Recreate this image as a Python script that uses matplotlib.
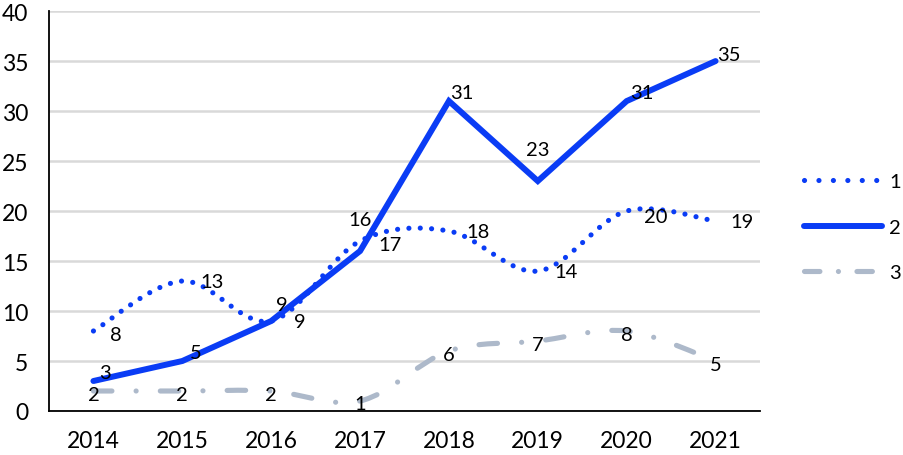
import matplotlib.pyplot as plt
from matplotlib.path import Path
from matplotlib.patches import PathPatch
from matplotlib.lines import Line2D

years = ['2014', '2015', '2016', '2017', '2018', '2019', '2020', '2021']
s1 = [8, 13, 9, 17, 18, 14, 20, 19]
s2 = [3, 5, 9, 16, 31, 23, 31, 35]
s3 = [2, 2, 2, 1, 6, 7, 8, 5]
names = ['1', '2', '3']

blue = '#0A3CF5'
gray = '#ADB9CA'

plt.rcParams['font.family'] = ['Lato', 'DejaVu Sans']


def smooth_path(xs, ys):
    # кривые Безье как у сглаженной линии Excel
    verts = [(xs[0], ys[0])]
    codes = [Path.MOVETO]
    n = len(xs)
    for i in range(n - 1):
        x0, y0 = (xs[i - 1], ys[i - 1]) if i > 0 else (xs[i], ys[i])
        x1, y1 = xs[i], ys[i]
        x2, y2 = xs[i + 1], ys[i + 1]
        x3, y3 = (xs[i + 2], ys[i + 2]) if i + 2 < n else (x2, y2)
        verts += [(x1 + (x2 - x0) / 6, y1 + (y2 - y0) / 6),
                  (x2 - (x3 - x1) / 6, y2 - (y3 - y1) / 6),
                  (x2, y2)]
        codes += [Path.CURVE4] * 3
    return Path(verts, codes)


fig = plt.figure(figsize=(9.04, 4.56), dpi=100)
ax = fig.add_axes([0.0542, 0.0965, 0.7865, 0.877])

x = list(range(len(years)))

lw_thin = 3.7
dot_style = (0, (0.01, 2.2))
dashdot_style = (0, (3.6, 4.7, 0.01, 4.7))

# 1 - точки
p1 = PathPatch(smooth_path(x, s1), fill=False, edgecolor=blue, lw=lw_thin,
               linestyle=dot_style, capstyle='round', zorder=3)
ax.add_patch(p1)
# 2 - сплошная
ax.plot(x, s2, color=blue, lw=4.3, solid_capstyle='round',
        solid_joinstyle='miter', zorder=4)
# 3 - штрихпунктир
p3 = PathPatch(smooth_path(x, s3), fill=False, edgecolor=gray, lw=lw_thin,
               linestyle=dashdot_style, capstyle='round', zorder=2)
ax.add_patch(p3)

fs = 14.5
off1 = [(22, -3), (30, 0), (29, 0), (30, -3), (29, 0), (28, 0), (29, -5), (26, 0)]
off2 = [(12, 9), (13, 9), (11, 17), (0, 32), (13, 9), (0, 32), (15, 9), (13, 7)]
for i in x:
    ax.annotate(str(s1[i]), (i, s1[i]), xytext=off1[i], textcoords='offset pixels',
                ha='center', va='center', fontsize=fs, zorder=5)
    ax.annotate(str(s2[i]), (i, s2[i]), xytext=off2[i], textcoords='offset pixels',
                ha='center', va='center', fontsize=fs, zorder=5)
    ax.annotate(str(s3[i]), (i, s3[i]), xytext=(0, -3), textcoords='offset pixels',
                ha='center', va='center', fontsize=fs, zorder=5)

ax.set_xlim(-0.5, 7.5)
ax.set_ylim(0, 40)
ax.set_yticks(range(0, 41, 5))
ax.set_xticks(x)
ax.set_xticklabels(years)
ax.tick_params(axis='both', length=0, labelsize=16.5)
ax.tick_params(axis='x', pad=14)
ax.tick_params(axis='y', pad=15)
ax.grid(axis='y', color='#D9D9D9', lw=1.8)
ax.set_axisbelow(True)
for side in ['top', 'right']:
    ax.spines[side].set_visible(False)
for side in ['left', 'bottom']:
    ax.spines[side].set_color('black')
    ax.spines[side].set_linewidth(1.3)

handles = [
    Line2D([], [], color=blue, lw=lw_thin, linestyle=(0, (0.01, 2.8)), dash_capstyle='round'),
    Line2D([], [], color=blue, lw=4.3, solid_capstyle='round'),
    Line2D([], [], color=gray, lw=lw_thin, linestyle=(0, (3.0, 3.6, 0.01, 3.6)),
           dash_capstyle='round'),
]
fig.legend(handles, names, loc='center left', bbox_to_anchor=(0.880, 0.5),
           frameon=False, fontsize=14.5, handlelength=3.9, handletextpad=0.35,
           labelspacing=1.42, borderaxespad=0)

fig.savefig('out.png', dpi=100)
